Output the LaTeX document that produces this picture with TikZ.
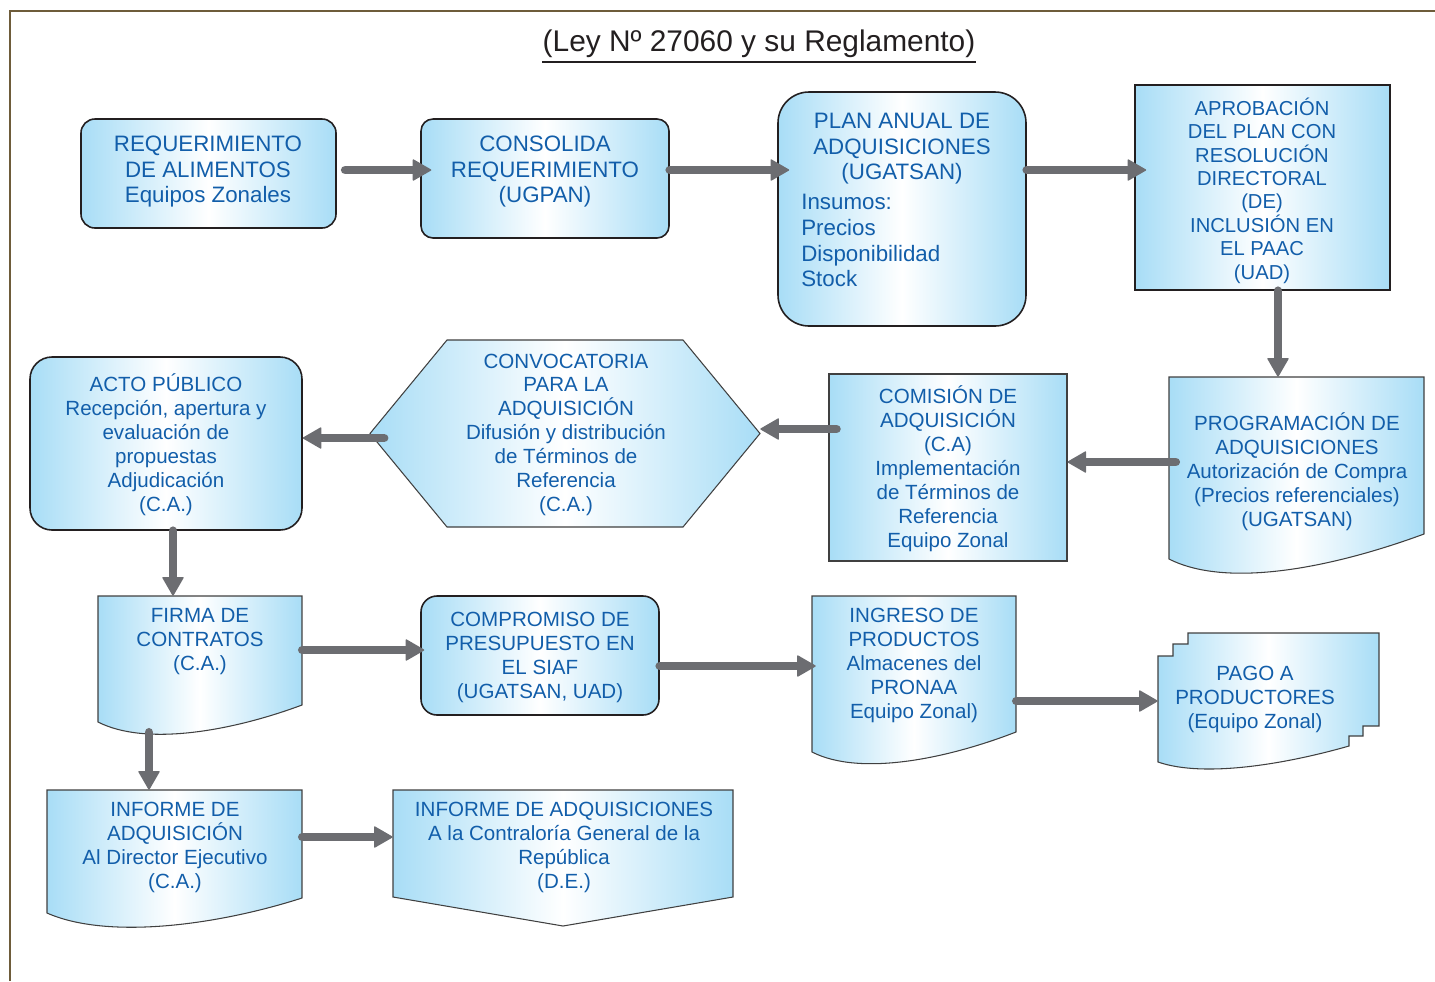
\documentclass[tikz,border=0pt]{standalone}
\usepackage{fontspec}
\setmainfont{Liberation Sans}
\usetikzlibrary{arrows.meta}

\definecolor{frameb}{RGB}{110,92,58}
\definecolor{skyb}{RGB}{168,221,246}
\definecolor{txtb}{RGB}{18,94,170}
\definecolor{arrg}{RGB}{108,109,113}
\definecolor{edgek}{RGB}{35,31,32}

\tikzset{
  sz/.style 2 args={minimum width=#1*0.02cm, minimum height=#2*0.02cm, inner sep=0pt},
  bluegrad/.style={left color=skyb, right color=skyb, middle color=white},
  rbox/.style={bluegrad, draw=edgek, line width=0.9pt},
  dbox/.style={bluegrad, draw=black!75, line width=0.6pt},
  lbl/.style={text=txtb, align=center, inner sep=0pt, yshift=-1.5pt, font=\fontsize{11.7}{13.6}\selectfont},
  lblbig/.style={lbl, font=\fontsize{12.7}{14.7}\selectfont},
  flowarr/.style={draw=arrg, line width=5pt, line cap=round,
    -{Triangle[round, line width=0.8pt, length=11pt, width=12.5pt]}},
}

\begin{document}
\begin{tikzpicture}[x=0.02cm, y=-0.02cm]
\useasboundingbox (0,0) rectangle (1435,981);

%% frame and title
\draw[frameb, line width=1.4pt] (10,981) -- (10,11) -- (1435,11);
\node[inner sep=0pt, text=edgek, font=\fontsize{17}{20}\selectfont] (title) at (759,43.5) {(Ley Nº 27060 y su Reglamento)};
\draw[edgek, line width=1.1pt] (title.south west |- 0,62) -- (title.south east |- 0,62);

%% boxes
\node[rbox, sz={255}{109}, rounded corners=0.28cm] (req) at (208.5,173.5) {};
\node[rbox, sz={248}{119}, rounded corners=0.24cm] (cons) at (545,178.5) {};
\node[rbox, sz={248}{234}, rounded corners=0.62cm] (plan) at (902,209) {};
\node[rbox, sz={255}{205}] (aprob) at (1262.5,187.5) {};
\node[dbox, sz={238}{187}] (comis) at (948,467.5) {};
\node[rbox, sz={272}{173}, rounded corners=0.44cm] (acto) at (166,443.5) {};
\node[rbox, sz={238}{119}, rounded corners=0.32cm] (comp) at (540,655.5) {};

%% documents, hexagon and page connector
\draw[dbox] (1169,377) -- (1424,377) -- (1424,534) .. controls (1340,565) and (1230,590) .. (1169,559) -- cycle;
\draw[dbox] (98,596) -- (302,596) -- (302,705) .. controls (235,730) and (147,747) .. (98,722) -- cycle;
\draw[dbox] (812,596) -- (1016,596) -- (1016,732) .. controls (949,758) and (861,777) .. (812,752) -- cycle;
\draw[dbox] (47,790) -- (302,790) -- (302,898) .. controls (218,925) and (108,940) .. (47,913) -- cycle;
\draw[dbox] (1158,762) -- (1158,656) -- (1173,656) -- (1173,644) -- (1188,644) -- (1188,633) -- (1379,633)
  -- (1379,726) -- (1363,726) -- (1363,736) -- (1349,736) -- (1349,746)
  .. controls (1286,764) and (1204,778) .. (1158,762) -- cycle;
\draw[dbox] (370,433.5) -- (447,340) -- (683,340) -- (760,433.5) -- (683,527) -- (447,527) -- cycle;
\draw[dbox] (393,790) -- (733,790) -- (733,897) -- (563,926) -- (393,897) -- cycle;
\node[sz={255}{195}] (prog) at (1296.5,474.5) {};
\node[sz={204}{136}] (firma) at (200,664) {};
\node[sz={204}{169}] (ingr) at (914,680.5) {};
\node[sz={255}{135}] (infa) at (174.5,857.5) {};
\node[sz={221}{135}] (pago) at (1268.5,700.5) {};
\node[sz={390}{187}] (conv) at (565,433.5) {};
\node[sz={340}{136}] (infc) at (563,858) {};

%% labels
\node[lblbig] (reqtxt) at (208,169) {REQUERIMIENTO\\DE ALIMENTOS\\Equipos Zonales};
\node[lblbig] (constxt) at (545,169) {CONSOLIDA\\REQUERIMIENTO\\(UGPAN)};
\node[lblbig] (plantxt) at (902,146) {PLAN ANUAL DE\\ADQUISICIONES\\(UGATSAN)};
\node[lblbig, align=left, anchor=west] (planlist) at (801,238) {Insumos:\\Precios\\Disponibilidad\\Stock};
\node[lbl, font=\fontsize{11.5}{13.3}\selectfont] (aprobtxt) at (1262,188)
  {APROBACIÓN\\DEL PLAN CON\\RESOLUCIÓN\\DIRECTORAL\\(DE)\\INCLUSIÓN EN\\EL PAAC\\(UAD)};
\node[lbl] (progtxt) at (1297,469) {PROGRAMACIÓN DE\\ADQUISICIONES\\Autorización de Compra\\(Precios referenciales)\\(UGATSAN)};
\node[lbl] (comistxt) at (948,466) {COMISIÓN DE\\ADQUISICIÓN\\(C.A)\\Implementación\\de Términos de\\Referencia\\Equipo Zonal};
\node[lbl] (convtxt) at (566,432) {CONVOCATORIA\\PARA LA\\ADQUISICIÓN\\Difusión y distribución\\de Términos de\\Referencia\\(C.A.)};
\node[lbl] (actotxt) at (166,442) {ACTO PÚBLICO\\Recepción, apertura y\\evaluación de\\propuestas\\Adjudicación\\(C.A.)};
\node[lbl] (firmatxt) at (200,639) {FIRMA DE\\CONTRATOS\\(C.A.)};
\node[lbl] (comptxt) at (540,655) {COMPROMISO DE\\PRESUPUESTO EN\\EL SIAF\\(UGATSAN, UAD)};
\node[lbl] (ingrtxt) at (914,663) {INGRESO DE\\PRODUCTOS\\Almacenes del\\PRONAA\\Equipo Zonal)};
\node[lbl] (pagotxt) at (1255,697) {PAGO A\\PRODUCTORES\\(Equipo Zonal)};
\node[lbl] (infatxt) at (175,845) {INFORME DE\\ADQUISICIÓN\\Al Director Ejecutivo\\(C.A.)};
\node[lbl] (infctxt) at (564,845) {INFORME DE ADQUISICIONES\\A la Contraloría General de la\\República\\(D.E.)};

%% arrows
\draw[flowarr, shorten <=4.8pt, shorten >=-6.3pt] (req.east |- 0,170) -- (cons.west |- 0,170);
\draw[flowarr, shorten >=-6.8pt] (cons.east |- 0,170) -- (plan.west |- 0,170);
\draw[flowarr, shorten >=-6.8pt] (plan.east |- 0,170) -- (aprob.west |- 0,170);
\draw[flowarr] (aprob.south -| 1278,0) -- (prog.north -| 1278,0);
\draw[flowarr, shorten <=-4pt] (prog.west |- 0,462) -- (comis.east |- 0,462);
\draw[flowarr, shorten <=-4.5pt] (comis.west |- 0,429) -- (conv.east |- 0,429);
\draw[flowarr, shorten <=-8.2pt] (conv.west |- 0,438) -- (acto.east |- 0,438);
\draw[flowarr] (acto.south -| 173,0) -- (firma.north -| 173,0);
\draw[flowarr, shorten >=-2.3pt] (firma.east |- 0,650) -- (comp.west |- 0,650);
\draw[flowarr, shorten >=-2.3pt] (comp.east |- 0,666) -- (ingr.west |- 0,666);
\draw[flowarr] (ingr.east |- 0,701) -- (pago.west |- 0,701);
\draw[flowarr] (firma.south -| 149,0) -- (infa.north -| 149,0);
\draw[flowarr] (infa.east |- 0,837) -- (infc.west |- 0,837);
\end{tikzpicture}
\end{document}
